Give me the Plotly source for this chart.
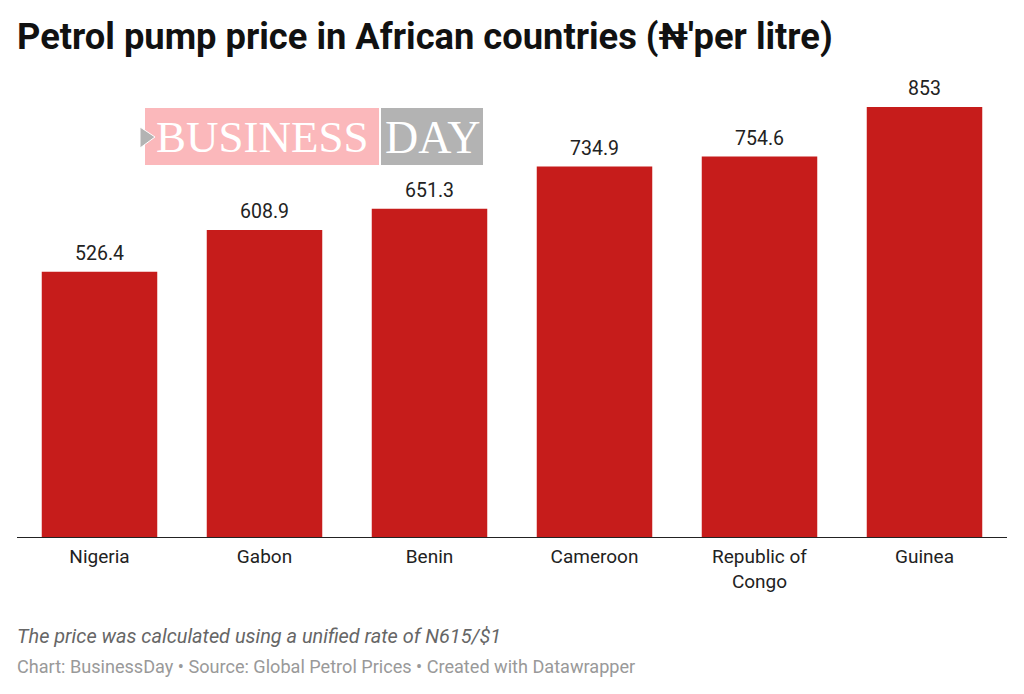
import plotly.graph_objects as go

countries = ["Nigeria", "Gabon", "Benin", "Cameroon", "Republic of<br>Congo", "Guinea"]
prices = [526.4, 608.9, 651.3, 734.9, 754.6, 853]
price_labels = ["526.4", "608.9", "651.3", "734.9", "754.6", "853"]

# The page has an 8 px body margin, so the figure starts at (8, 8) in the window.
OFF = 8
W, H = 1024 - OFF, 694 - OFF
L, R, T, B = 17, 1007, 107, 537
px = lambda x: (x - L) / (R - L)
py = lambda y: (B - y) / (B - T)

FONT = "Roboto"
fig = go.Figure(go.Bar(
    x=countries, y=prices, cliponaxis=False,
    marker=dict(color="#c61c1b", line=dict(width=0)), hoverinfo="skip",
))

def rect(x0, y0, x1, y1, color):
    return dict(type="rect", xref="paper", yref="paper", x0=px(x0), x1=px(x1), y0=py(y1), y1=py(y0),
                fillcolor=color, line=dict(width=0), layer="above")

shapes = [
    rect(145, 108, 379, 165, "#fbb8bb"),
    rect(381, 108, 483, 165, "#b3b3b3"),
    dict(type="path", xref="paper", yref="paper",
         path=f"M {px(140)} {py(127)} L {px(155)} {py(137)} L {px(140)} {py(148)} Z",
         fillcolor="#b3b3b3", line=dict(color="white", width=1), layer="above"),
]

def note(text, x, y, size, color, anchor="left", family=FONT):
    return dict(text=text, x=px(x), y=py(y), xref="paper", yref="paper", xanchor=anchor, yanchor="middle",
                showarrow=False, font=dict(size=size, color=color, family=family), align="left",
                borderpad=0, xshift=0)

annotations = [
    note("<b>Petrol pump price in African countries (₦'per litre)</b>", 16, 37, 36.3, "#111111"),
    note("BUSINESS", 262, 137, 45, "white", "center", "Liberation Serif"),
    note("DAY", 432, 137, 46, "white", "center", "Liberation Serif"),
    note("<i>The price was calculated using a unified rate of N615/$1</i>", 16, 636, 19.9, "#666666"),
    note("Chart: BusinessDay • Source: Global Petrol Prices • Created with Datawrapper", 16, 666, 18.1, "#999999"),
]
for c, p, t in zip(countries, prices, price_labels):
    annotations.append(dict(x=c, y=p, text=t, xref="x", yref="y", xanchor="center", yanchor="bottom",
                            showarrow=False, yshift=6, borderpad=0,
                            font=dict(size=19.5, color="#222222", family=FONT)))

fig.update_layout(
    width=W, height=H, margin=dict(l=L - OFF, r=W + OFF - R, t=T - OFF, b=H + OFF - B),
    paper_bgcolor="white", plot_bgcolor="white", bargap=0.3, showlegend=False,
    font=dict(family=FONT), shapes=shapes, annotations=annotations,
    xaxis=dict(type="category", showgrid=False, showline=True, linecolor="#222222", linewidth=1,
               ticks="outside", ticklen=2, tickcolor="rgba(0,0,0,0)",
               tickfont=dict(size=19, color="#222222", family=FONT)),
    yaxis=dict(range=[0, 853], visible=False, fixedrange=True),
)
fig.write_html("out.html", config=dict(displayModeBar=False))
